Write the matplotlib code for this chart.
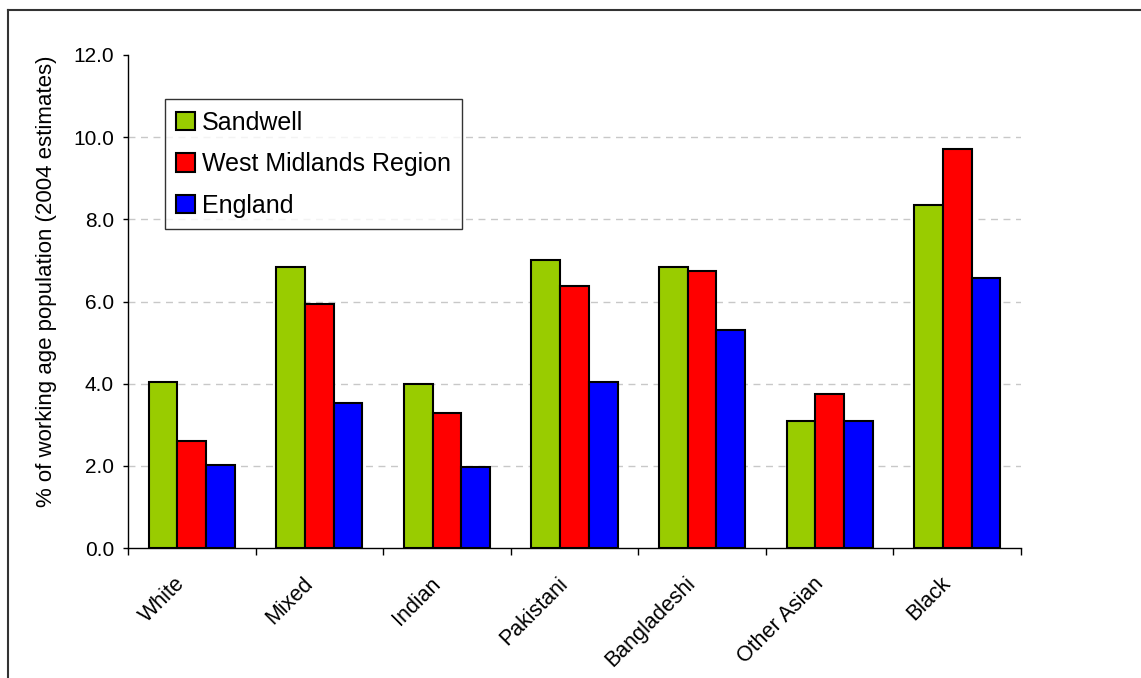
import matplotlib
matplotlib.use("Agg")
import matplotlib.pyplot as plt
import matplotlib.transforms as mtransforms
from matplotlib.lines import Line2D
import numpy as np

plt.rcParams['font.family'] = ['Liberation Sans', 'DejaVu Sans']

categories = ['White', 'Mixed', 'Indian', 'Pakistani', 'Bangladeshi', 'Other Asian', 'Black']
series = ['Sandwell', 'West Midlands Region', 'England']
sandwell = [4.05, 6.85, 4.0, 7.0, 6.85, 3.08, 8.35]
west_midlands = [2.6, 5.93, 3.28, 6.37, 6.75, 3.76, 9.7]
england = [2.03, 3.52, 1.98, 4.05, 5.3, 3.08, 6.56]
colors = ['#99CC00', '#FF0000', '#0000FF']

fig = plt.figure(figsize=(11.41, 6.78), dpi=100)
ax = fig.add_axes([0.1122, 0.1917, 0.7826, 0.7272])

x = np.arange(len(categories))
w = 0.225
for i, (vals, name) in enumerate(zip([sandwell, west_midlands, england], series)):
    ax.bar(x + (i - 1) * w, vals, width=w, color=colors[i], edgecolor='black',
           linewidth=1.5, label=name, zorder=3)

ax.set_xlim(-0.5, len(categories) - 0.5)
ax.set_ylim(0, 12)
ax.set_yticks(np.arange(0, 12.1, 2))
ax.set_yticklabels([f'{v:.1f}' for v in np.arange(0, 12.1, 2)], fontsize=15)
ax.tick_params(axis='y', direction='out', length=3.6, width=1, pad=6.5)

ax.set_xticks(x)
ax.set_xticklabels(categories, rotation=45, ha='right', va='top',
                   rotation_mode='anchor', fontsize=15.5)
ax.tick_params(axis='x', which='major', length=0, pad=18)
shift = mtransforms.ScaledTranslation(-0.17, 0, fig.dpi_scale_trans)
for lbl in ax.get_xticklabels():
    lbl.set_transform(lbl.get_transform() + shift)
ax.set_xticks(np.arange(-0.5, len(categories), 1), minor=True)
ax.tick_params(axis='x', which='minor', direction='out', length=5, width=1)

for yv in [2, 4, 6, 8, 10]:
    ax.axhline(yv, color='#c8c8c8', linestyle=(0, (5, 4)), linewidth=1, zorder=1)

for s in ['top', 'right']:
    ax.spines[s].set_visible(False)
ax.spines['left'].set_linewidth(1)
ax.spines['bottom'].set_linewidth(1)

ax.set_ylabel('% of working age population (2004 estimates)', fontsize=16)
ax.yaxis.set_label_coords(-0.080, 0.542)

leg = ax.legend(loc='upper left', bbox_to_anchor=(0.041, 0.91), fontsize=18,
                frameon=True, fancybox=False, edgecolor='black',
                handlelength=0.75, handleheight=0.75, handletextpad=0.3,
                labelspacing=0.7, borderpad=0.45, borderaxespad=0)
leg.get_frame().set_linewidth(1)

fig.add_artist(Line2D([8 / 1141, 8 / 1141], [0, 1 - 10 / 678], transform=fig.transFigure,
                      color='#333333', linewidth=1.5))
fig.add_artist(Line2D([8 / 1141, 1], [1 - 10 / 678, 1 - 10 / 678], transform=fig.transFigure,
                      color='#333333', linewidth=1.5))

fig.savefig('out.png', dpi=100)
